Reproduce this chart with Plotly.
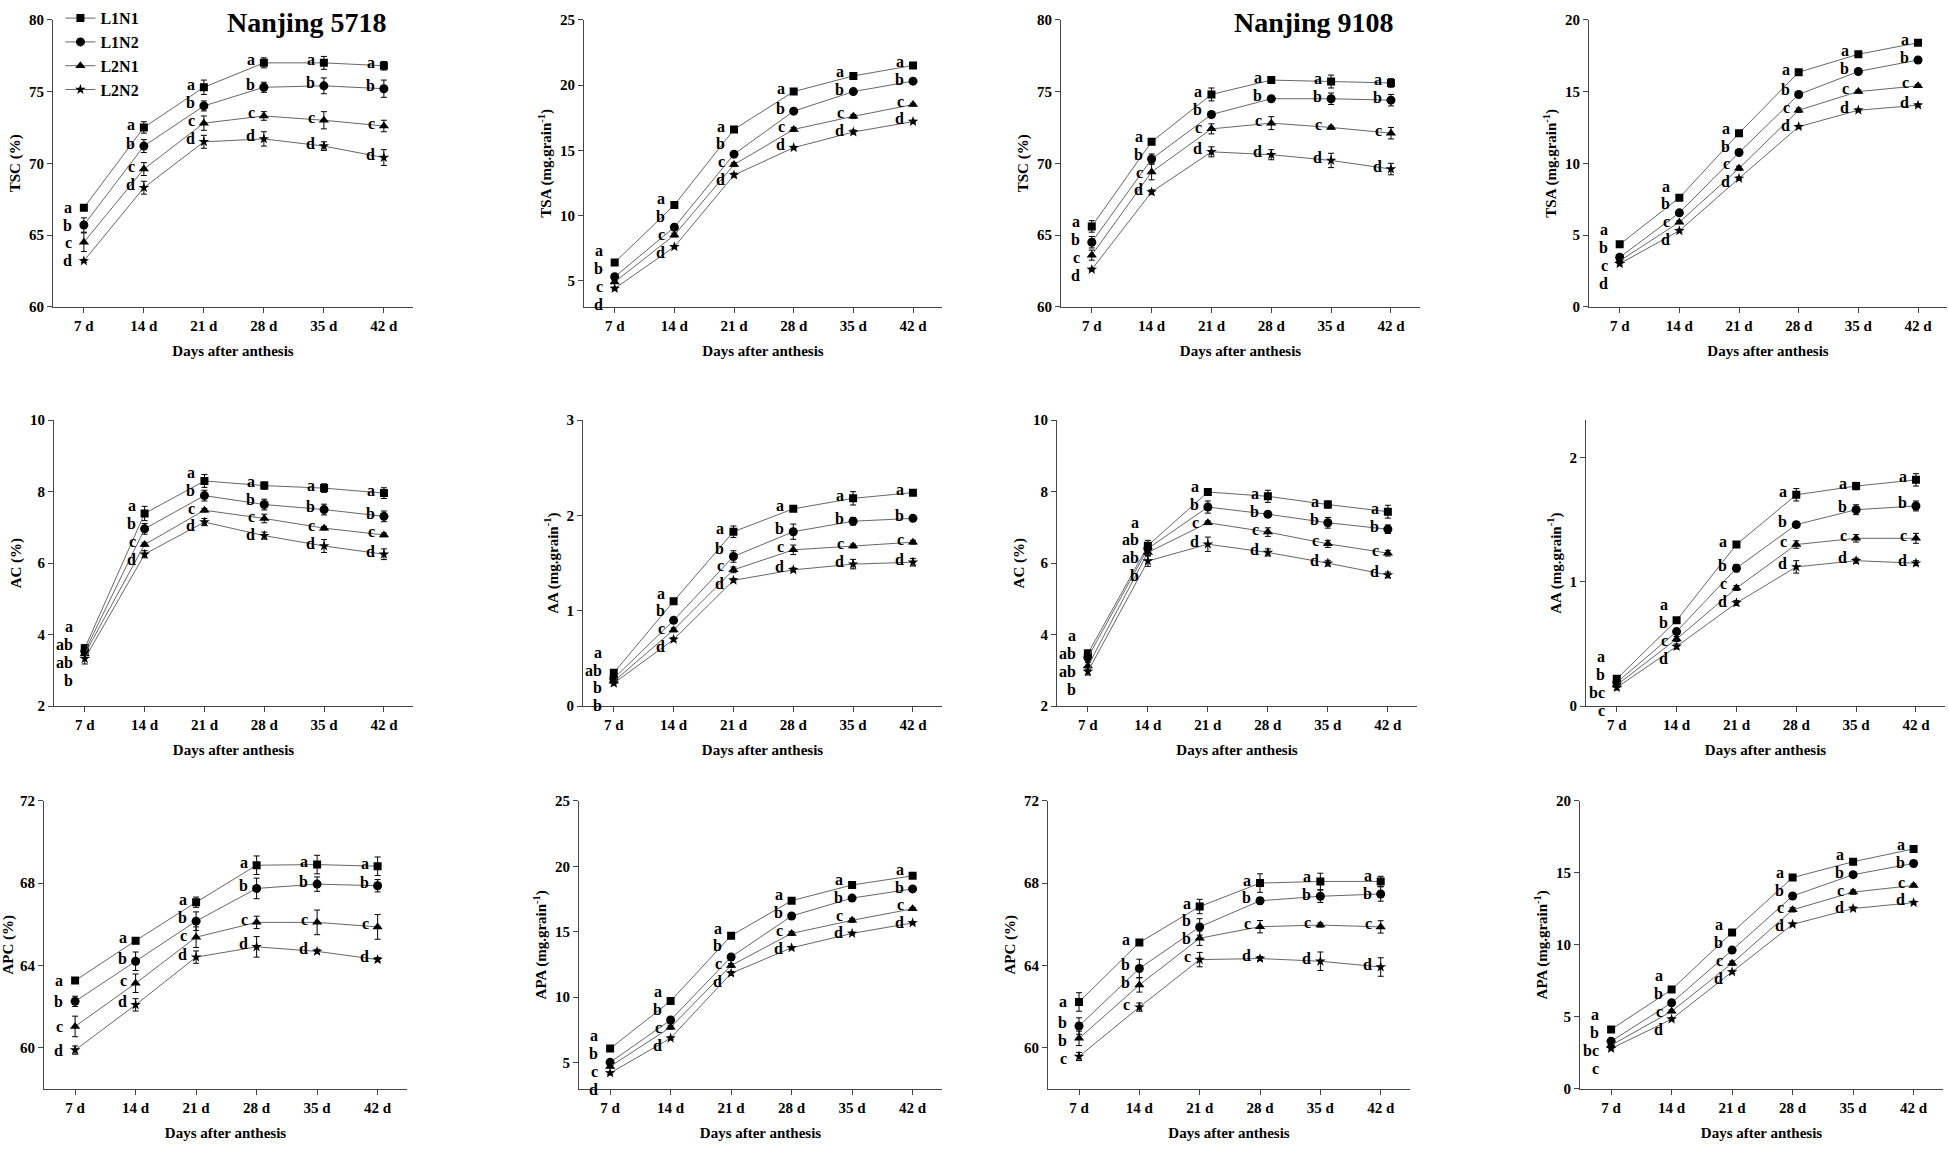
import plotly.graph_objects as go

# ── Data ─────────────────────────────────────────────────────
DAYS = [7, 14, 21, 28, 35, 42]
DAY_LABELS = ["7 d", "14 d", "21 d", "28 d", "35 d", "42 d"]
TREATMENTS = ["L1N1", "L1N2", "L2N1", "L2N2"]
CULTIVARS = ["Nanjing 5718", "Nanjing 9108"]

# rows: L1N1, L1N2, L2N1, L2N2
tsc_5718 = [[66.9, 72.5, 75.3, 77.0, 77.0, 76.8],
            [65.7, 71.2, 74.0, 75.3, 75.4, 75.2],
            [64.5, 69.6, 72.8, 73.3, 73.0, 72.6],
            [63.2, 68.3, 71.5, 71.7, 71.2, 70.4]]
tsc_5718_se = [[0.1, 0.4, 0.5, 0.35, 0.45, 0.3],
               [0.5, 0.45, 0.35, 0.35, 0.55, 0.6],
               [0.65, 0.45, 0.5, 0.3, 0.6, 0.4],
               [0.1, 0.45, 0.45, 0.5, 0.3, 0.55]]

tsa_5718 = [[6.4, 10.8, 16.6, 19.5, 20.7, 21.5],
            [5.3, 9.1, 14.7, 18.0, 19.5, 20.3],
            [4.9, 8.5, 13.9, 16.6, 17.6, 18.5],
            [4.4, 7.6, 13.1, 15.2, 16.4, 17.2]]
tsa_5718_se = [[0.1, 0.2, 0.15, 0.15, 0.2, 0.15],
               [0.1, 0.15, 0.2, 0.15, 0.15, 0.15],
               [0.1, 0.15, 0.15, 0.15, 0.15, 0.1],
               [0.1, 0.1, 0.15, 0.1, 0.15, 0.1]]

tsc_9108 = [[65.6, 71.5, 74.8, 75.8, 75.7, 75.6],
            [64.5, 70.3, 73.4, 74.5, 74.5, 74.4],
            [63.6, 69.4, 72.4, 72.8, 72.5, 72.1],
            [62.6, 68.0, 70.8, 70.6, 70.2, 69.6]]
tsc_9108_se = [[0.4, 0.2, 0.45, 0.1, 0.45, 0.3],
               [0.4, 0.35, 0.2, 0.1, 0.4, 0.4],
               [0.35, 0.55, 0.35, 0.45, 0.1, 0.4],
               [0.1, 0.15, 0.35, 0.35, 0.5, 0.4]]

tsa_9108 = [[4.35, 7.6, 12.1, 16.35, 17.6, 18.4],
            [3.45, 6.55, 10.75, 14.8, 16.4, 17.2],
            [3.2, 5.9, 9.65, 13.7, 15.0, 15.4],
            [3.0, 5.3, 8.95, 12.55, 13.7, 14.05]]
tsa_9108_se = [[0.1, 0.15, 0.15, 0.15, 0.15, 0.15],
               [0.1, 0.15, 0.15, 0.15, 0.15, 0.15],
               [0.1, 0.1, 0.15, 0.15, 0.1, 0.1],
               [0.1, 0.1, 0.1, 0.1, 0.1, 0.1]]

ac_5718 = [[3.62, 7.39, 8.30, 8.17, 8.10, 7.96],
           [3.53, 6.96, 7.89, 7.64, 7.50, 7.31],
           [3.46, 6.52, 7.48, 7.25, 6.98, 6.79],
           [3.33, 6.25, 7.15, 6.77, 6.48, 6.25]]
ac_5718_se = [[0.1, 0.2, 0.18, 0.1, 0.12, 0.15],
              [0.1, 0.15, 0.15, 0.15, 0.15, 0.15],
              [0.1, 0.05, 0.05, 0.12, 0.05, 0.05],
              [0.15, 0.1, 0.1, 0.1, 0.18, 0.15]]

aa_5718 = [[0.35, 1.10, 1.83, 2.07, 2.18, 2.24],
           [0.29, 0.90, 1.57, 1.83, 1.94, 1.97],
           [0.26, 0.80, 1.43, 1.64, 1.68, 1.72],
           [0.24, 0.70, 1.32, 1.43, 1.49, 1.51]]
aa_5718_se = [[0.03, 0.02, 0.06, 0.02, 0.07, 0.03],
              [0.03, 0.02, 0.06, 0.08, 0.04, 0.03],
              [0.02, 0.02, 0.03, 0.05, 0.02, 0.02],
              [0.02, 0.02, 0.02, 0.02, 0.05, 0.04]]

ac_9108 = [[3.47, 6.49, 7.99, 7.87, 7.64, 7.44],
           [3.36, 6.41, 7.57, 7.37, 7.13, 6.95],
           [3.12, 6.30, 7.13, 6.87, 6.54, 6.28],
           [2.97, 6.06, 6.53, 6.30, 6.00, 5.67]]
ac_9108_se = [[0.1, 0.15, 0.05, 0.17, 0.1, 0.18],
              [0.1, 0.1, 0.17, 0.05, 0.15, 0.12],
              [0.1, 0.1, 0.05, 0.12, 0.1, 0.08],
              [0.1, 0.15, 0.2, 0.1, 0.08, 0.08]]

aa_9108 = [[0.22, 0.69, 1.30, 1.70, 1.77, 1.82],
           [0.19, 0.60, 1.11, 1.46, 1.58, 1.61],
           [0.17, 0.54, 0.95, 1.30, 1.35, 1.35],
           [0.15, 0.48, 0.83, 1.12, 1.17, 1.15]]
aa_9108_se = [[0.02, 0.02, 0.02, 0.05, 0.03, 0.05],
              [0.02, 0.02, 0.03, 0.02, 0.04, 0.04],
              [0.02, 0.02, 0.02, 0.03, 0.03, 0.04],
              [0.02, 0.02, 0.02, 0.05, 0.02, 0.02]]

apc_5718 = [[63.26, 65.2, 67.07, 68.87, 68.9, 68.82],
            [62.25, 64.2, 66.15, 67.74, 67.95, 67.87],
            [61.03, 63.13, 65.37, 66.09, 66.09, 65.87],
            [59.88, 62.08, 64.4, 64.9, 64.68, 64.28]]
apc_5718_se = [[0.1, 0.15, 0.25, 0.45, 0.45, 0.45],
               [0.25, 0.45, 0.45, 0.5, 0.35, 0.3],
               [0.5, 0.45, 0.5, 0.3, 0.6, 0.6],
               [0.2, 0.3, 0.3, 0.5, 0.1, 0.1]]

apa_5718 = [[6.07, 9.7, 14.7, 17.37, 18.57, 19.27],
            [5.02, 8.25, 13.07, 16.2, 17.57, 18.27],
            [4.7, 7.7, 12.42, 14.87, 15.87, 16.75],
            [4.2, 6.87, 11.82, 13.77, 14.87, 15.67]]
apa_5718_se = [[0.1, 0.15, 0.15, 0.2, 0.15, 0.15],
               [0.1, 0.2, 0.15, 0.15, 0.15, 0.15],
               [0.1, 0.15, 0.15, 0.15, 0.15, 0.1],
               [0.1, 0.1, 0.15, 0.1, 0.1, 0.1]]

apc_9108 = [[62.22, 65.11, 66.86, 68.0, 68.08, 68.08],
            [61.05, 63.85, 65.87, 67.14, 67.36, 67.47],
            [60.45, 63.05, 65.32, 65.88, 65.96, 65.87],
            [59.57, 61.97, 64.28, 64.33, 64.2, 63.92]]
apc_9108_se = [[0.45, 0.1, 0.35, 0.45, 0.4, 0.25],
               [0.4, 0.45, 0.4, 0.15, 0.3, 0.35],
               [0.35, 0.35, 0.35, 0.3, 0.1, 0.3],
               [0.2, 0.2, 0.35, 0.1, 0.45, 0.45]]

apa_9108 = [[4.12, 6.89, 10.85, 14.67, 15.77, 16.66],
            [3.3, 5.97, 9.63, 13.39, 14.87, 15.65],
            [3.02, 5.38, 8.72, 12.43, 13.66, 14.12],
            [2.79, 4.83, 8.12, 11.42, 12.52, 12.93]]
apa_9108_se = [[0.1, 0.15, 0.15, 0.15, 0.15, 0.15],
               [0.1, 0.15, 0.15, 0.15, 0.15, 0.15],
               [0.1, 0.1, 0.15, 0.15, 0.15, 0.1],
               [0.1, 0.1, 0.1, 0.1, 0.1, 0.1]]

# significance letters, one list per sampling day (L1N1, L1N2, L2N1, L2N2)
ABCD = ["a", "b", "c", "d"]
sig_plain = [ABCD] * 6
sig_ac_5718 = [["a", "ab", "ab", "b"]] + [ABCD] * 5
sig_aa_5718 = [["a", "ab", "b", "b"]] + [ABCD] * 5
sig_ac_9108 = [["a", "ab", "ab", "b"], ["a", "ab", "ab", "b"]] + [ABCD] * 4
sig_aa_9108 = [["a", "b", "bc", "c"]] + [ABCD] * 5
sig_apc_9108 = [["a", "b", "b", "c"]] * 3 + [ABCD] * 3
sig_apa_9108 = [["a", "b", "bc", "c"]] + [ABCD] * 5

PCT = "(%)"
MG = "(mg.grain<sup>-1</sup>)"

# (mean, se, letters, y title, y range, y ticks)
PANELS = [
    (tsc_5718, tsc_5718_se, sig_plain, f"TSC {PCT}", [60, 80], [60, 65, 70, 75, 80]),
    (tsa_5718, tsa_5718_se, sig_plain, f"TSA {MG}", [3, 25], [5, 10, 15, 20, 25]),
    (tsc_9108, tsc_9108_se, sig_plain, f"TSC {PCT}", [60, 80], [60, 65, 70, 75, 80]),
    (tsa_9108, tsa_9108_se, sig_plain, f"TSA {MG}", [0, 20], [0, 5, 10, 15, 20]),
    (ac_5718, ac_5718_se, sig_ac_5718, f"AC {PCT}", [2, 10], [2, 4, 6, 8, 10]),
    (aa_5718, aa_5718_se, sig_aa_5718, f"AA {MG}", [0, 3], [0, 1, 2, 3]),
    (ac_9108, ac_9108_se, sig_ac_9108, f"AC {PCT}", [2, 10], [2, 4, 6, 8, 10]),
    (aa_9108, aa_9108_se, sig_aa_9108, f"AA {MG}", [0, 2.3], [0, 1, 2]),
    (apc_5718, apc_5718_se, sig_plain, f"APC {PCT}", [58, 72], [60, 64, 68, 72]),
    (apa_5718, apa_5718_se, sig_plain, f"APA {MG}", [3, 25], [5, 10, 15, 20, 25]),
    (apc_9108, apc_9108_se, sig_apc_9108, f"APC {PCT}", [58, 72], [60, 64, 68, 72]),
    (apa_9108, apa_9108_se, sig_apa_9108, f"APA {MG}", [0, 20], [0, 5, 10, 15, 20]),
]

# ── Layout geometry (pixels) ─────────────────────────────────
W, H = 1949, 1151
X_PX = [(53, 413), (584, 942), (1061, 1420), (1589, 1947),
        (54, 413), (583, 942), (1057, 1417), (1586, 1945),
        (44, 407), (579, 942), (1048, 1410), (1580, 1943)]
Y_PX = [(12, 303), (418, 708), (804, 1096)]

SYMBOLS = ["square", "circle", "triangle-up", "star"]
SIZES = [8, 9, 9, 8]
FONT = "Liberation Serif"


def spread(pix, gap):
    """Push label pixel positions apart so they do not overlap."""
    order = sorted(range(len(pix)), key=lambda i: -pix[i])
    pos = [pix[i] for i in order]
    for _ in range(300):
        moved = False
        for k in range(len(pos) - 1):
            d = pos[k] - pos[k + 1]
            if d < gap - 1e-6:
                s = (gap - d) / 2
                pos[k] += s
                pos[k + 1] -= s
                moved = True
        if not moved:
            break
    out = [0.0] * len(pix)
    for k, i in enumerate(order):
        out[i] = pos[k]
    return out


fig = go.Figure()
annotations = []
axis_font = dict(family=FONT, size=15, color="black", weight="bold")

for p, (mean, se, sig, ytitle, yrange, yticks) in enumerate(PANELS):
    n = p + 1
    xa = "x" if n == 1 else f"x{n}"
    ya = "y" if n == 1 else f"y{n}"
    x0, x1 = X_PX[p]
    top, bot = Y_PX[p // 4]

    for t, name in enumerate(TREATMENTS):
        fig.add_trace(go.Scatter(
            x=DAYS, y=mean[t], name=name, legendgroup=name,
            showlegend=(p == 0),
            mode="lines+markers",
            line=dict(color="#666666", width=1),
            marker=dict(symbol=SYMBOLS[t], size=SIZES[t], color="black"),
            error_y=dict(type="data", array=se[t], color="black",
                         thickness=1, width=3),
            xaxis=xa, yaxis=ya,
        ))

    # significance letters
    ppu = (bot - top) / (yrange[1] - yrange[0])
    for d, day in enumerate(DAYS):
        pix = [(mean[t][d] - yrange[0]) * ppu for t in range(4)]
        adj = spread(pix, 18)
        for t in range(4):
            annotations.append(dict(
                x=day, y=mean[t][d], xref=xa, yref=ya,
                text=sig[d][t], showarrow=False,
                xanchor="right", yanchor="middle",
                xshift=-7 if d > 0 else -10,
                yshift=adj[t] - pix[t] + (3 if d > 0 else 0),
                font=dict(family=FONT, size=16, color="black", weight="bold"),
            ))

    fig.update_layout(**{
        ("xaxis" if n == 1 else f"xaxis{n}"): dict(
            domain=[x0 / W, x1 / W], anchor=ya, range=[3.4, 45.4],
            tickvals=DAYS, ticktext=DAY_LABELS,
            showline=True, linecolor="#444444", linewidth=1.2,
            ticks="outside", ticklen=5, tickwidth=1.2, tickcolor="#444444",
            showgrid=False, zeroline=False, tickfont=axis_font,
            title=dict(text="Days after anthesis", font=axis_font, standoff=12),
        ),
        ("yaxis" if n == 1 else f"yaxis{n}"): dict(
            domain=[1 - bot / H, 1 - top / H], anchor=xa, range=yrange,
            tickvals=yticks,
            showline=True, linecolor="#444444", linewidth=1.2,
            ticks="outside", ticklen=5, tickwidth=1.2, tickcolor="#444444",
            showgrid=False, zeroline=False, tickfont=axis_font,
            title=dict(text=ytitle, font=axis_font, standoff=4),
        ),
    })

# cultivar titles
for cx, label in zip([306, 1313], CULTIVARS):
    annotations.append(dict(
        x=cx / W, y=1.003, xref="paper", yref="paper", text=label,
        showarrow=False, xanchor="center", yanchor="top",
        font=dict(family=FONT, size=28, color="black", weight="bold"),
    ))

fig.update_layout(
    width=W, height=H,
    margin=dict(l=0, r=0, t=0, b=0),
    plot_bgcolor="white", paper_bgcolor="white",
    annotations=annotations,
    legend=dict(x=0.031, y=1.006, xanchor="left", yanchor="top",
                bgcolor="rgba(0,0,0,0)", tracegroupgap=0,
                font=dict(family=FONT, size=16, color="black", weight="bold")),
)

fig.write_html("out.html", config={"displayModeBar": False},
               post_script="document.body.style.margin='0px';")
